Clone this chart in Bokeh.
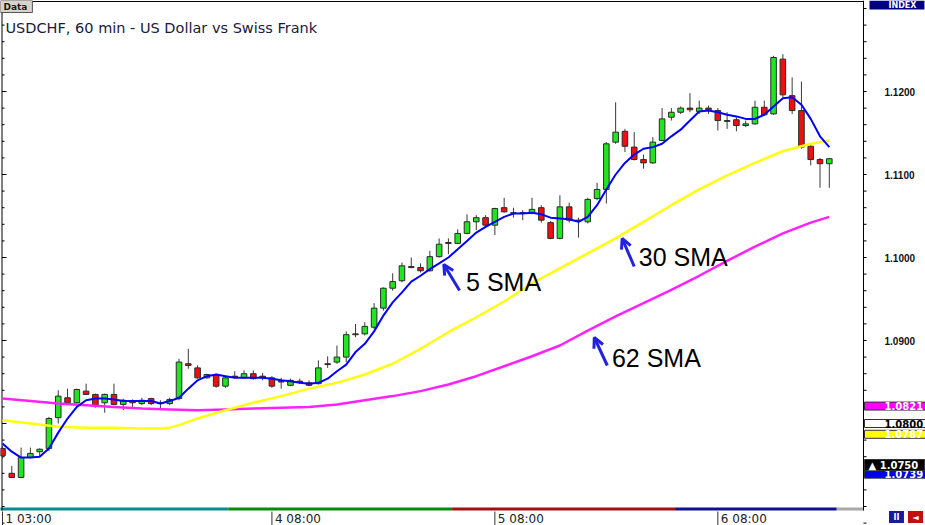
from bokeh.plotting import figure
from bokeh.models import Range1d, Label, LabelSet, ColumnDataSource, Arrow, OpenHead
from bokeh.embed import file_html
from bokeh.resources import INLINE
from bokeh.core.properties import value

# ---------------- data (hourly USDCHF candles) -------------
opens = [1.0770, 1.0740, 1.0735, 1.0759, 1.0766, 1.0770, 1.0807, 1.0831, 1.0825, 1.0839,
         1.0835, 1.0825, 1.0835, 1.0823, 1.0827, 1.0824, 1.0830, 1.0824, 1.0824, 1.0830,
         1.0872, 1.0867, 1.0855, 1.0859, 1.0845, 1.0857, 1.0855, 1.0860, 1.0857, 1.0855,
         1.0851, 1.0846, 1.0851, 1.0849, 1.0848, 1.0872, 1.0874, 1.0880, 1.0908, 1.0908,
         1.0916, 1.0939, 1.0963, 1.0972, 1.0989, 1.0988, 1.0984, 1.1001, 1.1018, 1.1017,
         1.1029, 1.1043, 1.1048, 1.1039, 1.1060, 1.1054, 1.1054, 1.1053, 1.1060, 1.1042,
         1.1023, 1.1061, 1.1045, 1.1043, 1.1071, 1.1082, 1.1139, 1.1152, 1.1133, 1.1118,
         1.1114, 1.1141, 1.1169, 1.1175, 1.1180, 1.1176, 1.1180, 1.1177, 1.1164, 1.1166,
         1.1159, 1.1161, 1.1181, 1.1173, 1.1239, 1.1195, 1.1177, 1.1134, 1.1118, 1.1113]
highs = [1.0773, 1.0749, 1.0771, 1.0771, 1.0770, 1.0808, 1.0840, 1.0842, 1.0842, 1.0848,
         1.0836, 1.0836, 1.0848, 1.0830, 1.0829, 1.0831, 1.0831, 1.0828, 1.0831, 1.0878,
         1.0890, 1.0870, 1.0860, 1.0860, 1.0857, 1.0863, 1.0864, 1.0864, 1.0861, 1.0857,
         1.0855, 1.0854, 1.0854, 1.0852, 1.0876, 1.0881, 1.0894, 1.0911, 1.0920, 1.0922,
         1.0945, 1.0964, 1.0981, 1.0994, 1.1000, 1.0993, 1.1008, 1.1023, 1.1023, 1.1034,
         1.1052, 1.1051, 1.1051, 1.1060, 1.1072, 1.1060, 1.1057, 1.1072, 1.1063, 1.1044,
         1.1075, 1.1066, 1.1048, 1.1072, 1.1090, 1.1139, 1.1187, 1.1155, 1.1151, 1.1124,
         1.1145, 1.1180, 1.1180, 1.1182, 1.1198, 1.1189, 1.1183, 1.1180, 1.1175, 1.1169,
         1.1165, 1.1189, 1.1189, 1.1243, 1.1245, 1.1217, 1.1212, 1.1135, 1.1120, 1.1120]
lows = [1.0758, 1.0734, 1.0734, 1.0758, 1.0761, 1.0767, 1.0800, 1.0824, 1.0824, 1.0835,
        1.0819, 1.0813, 1.0822, 1.0816, 1.0819, 1.0822, 1.0822, 1.0816, 1.0822, 1.0828,
        1.0866, 1.0854, 1.0854, 1.0843, 1.0843, 1.0854, 1.0854, 1.0853, 1.0852, 1.0843,
        1.0842, 1.0845, 1.0848, 1.0845, 1.0847, 1.0867, 1.0872, 1.0874, 1.0904, 1.0906,
        1.0914, 1.0936, 1.0960, 1.0970, 1.0987, 1.0982, 1.0983, 1.1000, 1.1004, 1.1016,
        1.1028, 1.1033, 1.1036, 1.1027, 1.1054, 1.1048, 1.1045, 1.1052, 1.1042, 1.1022,
        1.1022, 1.1042, 1.1024, 1.1041, 1.1069, 1.1065, 1.1137, 1.1127, 1.1117, 1.1107,
        1.1113, 1.1140, 1.1165, 1.1173, 1.1175, 1.1173, 1.1173, 1.1153, 1.1155, 1.1152,
        1.1157, 1.1160, 1.1171, 1.1172, 1.1193, 1.1173, 1.1131, 1.1111, 1.1084, 1.1084]
closes = [1.0761, 1.0735, 1.0759, 1.0764, 1.0769, 1.0806, 1.0833, 1.0825, 1.0841, 1.0835,
          1.0822, 1.0835, 1.0823, 1.0828, 1.0825, 1.0828, 1.0824, 1.0825, 1.0829, 1.0874,
          1.0870, 1.0855, 1.0859, 1.0845, 1.0855, 1.0856, 1.0860, 1.0854, 1.0856, 1.0845,
          1.0850, 1.0852, 1.0850, 1.0846, 1.0867, 1.0871, 1.0880, 1.0907, 1.0907, 1.0917,
          1.0939, 1.0963, 1.0971, 1.0990, 1.0988, 1.0984, 1.1001, 1.1016, 1.1017, 1.1029,
          1.1043, 1.1048, 1.1039, 1.1059, 1.1055, 1.1053, 1.1053, 1.1058, 1.1045, 1.1023,
          1.1061, 1.1045, 1.1044, 1.1070, 1.1082, 1.1137, 1.1151, 1.1134, 1.1118, 1.1114,
          1.1139, 1.1167, 1.1175, 1.1180, 1.1178, 1.1180, 1.1178, 1.1165, 1.1165, 1.1159,
          1.1161, 1.1181, 1.1172, 1.1241, 1.1196, 1.1177, 1.1133, 1.1118, 1.1113, 1.1119]

sma5 = [1.0776, 1.0766, 1.0759, 1.0759, 1.0760, 1.0770, 1.0789, 1.0806, 1.0820, 1.0828,
        1.0830, 1.0830, 1.0829, 1.0827, 1.0827, 1.0827, 1.0827, 1.0824, 1.0827, 1.0831,
        1.0842, 1.0852, 1.0857, 1.0859, 1.0857, 1.0855, 1.0855, 1.0855, 1.0855, 1.0854,
        1.0852, 1.0851, 1.0849, 1.0848, 1.0849, 1.0854, 1.0863, 1.0871, 1.0886, 1.0896,
        1.0911, 1.0930, 1.0946, 1.0958, 1.0971, 1.0978, 1.0986, 1.0993, 1.1000, 1.1010,
        1.1020, 1.1030, 1.1037, 1.1043, 1.1049, 1.1053, 1.1053, 1.1054, 1.1052, 1.1048,
        1.1047, 1.1046, 1.1043, 1.1049, 1.1063, 1.1082, 1.1100, 1.1114, 1.1124, 1.1131,
        1.1133, 1.1137, 1.1146, 1.1154, 1.1165, 1.1176, 1.1177, 1.1175, 1.1172, 1.1170,
        1.1167, 1.1167, 1.1172, 1.1182, 1.1192, 1.1193, 1.1184, 1.1167, 1.1146, 1.1133]

sma30_bar = [0, 3, 6, 9, 12, 15, 17, 18, 19, 21, 24, 27, 30, 33, 36, 39, 42, 45, 48, 51,
             54, 57, 60, 63, 66, 69, 72, 75, 78, 81, 84, 87, 89]
sma30 = [1.0804, 1.0800, 1.0796, 1.0795, 1.0795, 1.0794, 1.0794, 1.0795, 1.0798, 1.0806,
         1.0816, 1.0825, 1.0833, 1.0842, 1.0849, 1.0859, 1.0872, 1.0890, 1.0910, 1.0928,
         1.0947, 1.0969, 1.0987, 1.1005, 1.1023, 1.1043, 1.1063, 1.1082, 1.1099, 1.1114,
         1.1128, 1.1137, 1.1141]

sma62_bar = [0, 3, 6, 9, 12, 15, 18, 21, 24, 27, 30, 33, 36, 39, 42, 45, 48, 51, 54, 57,
             60, 63, 66, 69, 72, 75, 78, 81, 84, 87, 89]
sma62 = [1.0830, 1.0827, 1.0824, 1.0822, 1.0820, 1.0818, 1.0817, 1.0816, 1.0817, 1.0818,
         1.0819, 1.0820, 1.0823, 1.0828, 1.0833, 1.0839, 1.0847, 1.0857, 1.0869, 1.0881,
         1.0894, 1.0912, 1.0929, 1.0945, 1.0961, 1.0978, 1.0996, 1.1013, 1.1029, 1.1042,
         1.1049]

x_tick_bars = [0, 29, 53, 77]
x_tick_labels = ["1 03:00", "4 08:00", "5 08:00", "6 08:00"]
price_ticks = [1.09, 1.10, 1.11, 1.12]
price_tick_labels = ["1.0900", "1.1000", "1.1100", "1.1200"]
minor_price_ticks = [round(1.068 + 0.002 * k, 3) for k in range(32)]

tag_values = [1.0821, 1.0800, 1.0787, 1.0739, 1.0750]
tag_texts = ["1.0821", "1.0800", "1.0787", "1.0739", "\u25b2  1.0750"]
tag_fills = ["#ff00ff", "#ffffff", "#ffff00", "#0000ee", "#000000"]
tag_text_colors = ["#ffffff", "#000000", "#ffffff", "#ffffff", "#ffffff"]

session_edges = [-0.3, 24.3, 48.4, 72.4, 89.8, 92.68]
session_colors = ["#0a8c8c", "#0a8a0a", "#a01010", "#101090", "#a8a8a8"]

# ---------------- pixel helpers for the layout (window 925 x 525) -------------
W, H = 925, 525
def bx(px):            # horizontal pixel -> bar index
    return (px - 2) / 9.29
def py(px):            # vertical pixel -> price
    return 1.12 - (px - 91) / 8300.0

XL, XR = bx(1.5), bx(863)
YT, YB = py(1), py(510)

p = figure(width=W, height=H, output_backend="svg", toolbar_location=None,
           x_range=Range1d(bx(0), bx(W)), y_range=Range1d(py(H), py(0)),
           x_axis_type=None, y_axis_type=None,
           min_border_left=0, min_border_right=0, min_border_top=0, min_border_bottom=0)
p.background_fill_color = "white"
p.border_fill_color = "white"
p.outline_line_color = None

# session strip at the bottom of the chart
p.quad(left=session_edges[:-1], right=session_edges[1:], bottom=YB, top=py(507),
       fill_color=session_colors, line_color=None)

# chart frame: left, top, right (price axis) lines
p.segment(x0=[XL, XL, XR], y0=[YB, YT, YB], x1=[XL, XR, XR], y1=[YT, YT, py(0)],
          line_color="#000000", line_width=1)

# price ticks: right axis (outside) and left edge (inside)
all_ticks = minor_price_ticks
p.segment(x0=[XR] * len(all_ticks), y0=all_ticks, x1=[bx(866)] * len(all_ticks),
          y1=all_ticks, line_color="#000000", line_width=1)
p.segment(x0=[XL] * len(all_ticks), y0=all_ticks,
          x1=[bx(6) if round(t, 3) in price_ticks + [1.08] else bx(4) for t in all_ticks],
          y1=all_ticks, line_color="#000000", line_width=1)
for t, lab in zip(price_ticks, price_tick_labels):
    p.add_layout(Label(x=bx(884), y=t, text=lab, text_font="Liberation Sans",
                       text_font_size="10px", text_font_style="bold", text_color="#111111",
                       text_baseline="middle", text_align="left"))

# time ticks and labels below
p.segment(x0=x_tick_bars, y0=[py(511)] * 4, x1=x_tick_bars, y1=[py(525)] * 4,
          line_color="#333333", line_width=1)
xl = ColumnDataSource(dict(x=x_tick_bars, text=x_tick_labels))
p.add_layout(LabelSet(x="x", y=py(522), text="text", source=xl, x_offset=3,
                      text_font=value("DejaVu Sans"), text_font_size=value("12px"),
                      text_color="#222222", text_baseline="alphabetic", text_align="left"))

# candles
idx = list(range(len(opens)))
src = ColumnDataSource(dict(
    x=idx, high=highs, low=lows,
    top=[max(o, c) for o, c in zip(opens, closes)],
    bottom=[min(o, c) for o, c in zip(opens, closes)],
    color=["#1fe61f" if c >= o else "#ee1010" for o, c in zip(opens, closes)]))
p.segment(x0="x", y0="low", x1="x", y1="high", source=src, line_color="#3a3a3a", line_width=1)
p.vbar(x="x", width=0.6, top="top", bottom="bottom", source=src,
       fill_color="color", line_color="#2a2a2a", line_width=1)

# moving averages
p.line(sma62_bar, sma62, line_color="#ff22ff", line_width=2.5)
p.line(sma30_bar, sma30, line_color="#ffff10", line_width=2.5)
p.line(idx, sma5, line_color="#0000ff", line_width=2)

# annotations
for txt, xx, yy in [("5 SMA", 49.9, py(281)), ("30 SMA", 68.5, py(256)), ("62 SMA", 65.6, py(357))]:
    p.add_layout(Label(x=xx, y=yy, text=txt, text_font="Liberation Sans",
                       text_font_size="25px", text_color="#000000",
                       text_baseline="alphabetic"))
for xs, ys, xe, ye in [(49.2, py(290), 47.5, py(264)), (68.0, py(266), 66.7, py(238)),
                       (65.1, py(365), 63.7, py(337))]:
    p.add_layout(Arrow(x_start=xs, y_start=ys, x_end=xe, y_end=ye,
                       line_color="#2222dd", line_width=3,
                       end=OpenHead(line_color="#2222dd", line_width=3, size=10)))

# header
p.add_layout(Label(x=bx(0), y=py(0), text="Data", text_font="DejaVu Sans", text_font_size="9px",
                   text_font_style="bold", text_color="#1a1a1a", text_baseline="top",
                   background_fill_color="#d8d4cc", border_line_color="#555555",
                   padding=dict(left=3, right=5, top=1, bottom=1)))
p.add_layout(Label(x=bx(5), y=py(27), text="USDCHF, 60 min - US Dollar vs Swiss Frank",
                   text_font="DejaVu Sans", text_font_size="14.5px", text_color="#1a1a3c",
                   text_baseline="alphabetic"))
p.add_layout(Label(x=bx(869), y=py(0), text="INDEX", text_font="DejaVu Sans",
                   text_font_size="8px", text_font_style="bold", text_color="#ffffff",
                   text_baseline="top", background_fill_color="#000080",
                   padding=dict(left=19, right=8, top=0, bottom=0)))

# price tags on the right
for v, t, c, tc in zip(tag_values, tag_texts, tag_fills, tag_text_colors):
    p.add_layout(Label(x=bx(864), y=v, text=t, text_font="DejaVu Sans",
                       text_font_size="10px", text_font_style="bold", text_color=tc,
                       text_baseline="middle", background_fill_color=c,
                       border_line_color="#333333",
                       padding=dict(left=4 if t.startswith("\u25b2") else 20, right=3,
                                    top=0, bottom=0)))

# small buttons bottom right
p.add_layout(Label(x=bx(888), y=py(510), text="II", text_font="DejaVu Sans",
                   text_font_size="8px", text_font_style="bold", text_color="#ffffff",
                   text_baseline="top", background_fill_color="#1a1aa0",
                   border_line_color="#ffffff",
                   padding=dict(left=5, right=5, top=2, bottom=2)))
p.add_layout(Label(x=bx(907), y=py(510), text="\u25c4", text_font="DejaVu Sans",
                   text_font_size="8px", text_color="#ffffff",
                   text_baseline="top", background_fill_color="#c01010",
                   border_line_color="#ffffff",
                   padding=dict(left=5, right=5, top=2, bottom=2)))

open("out.html", "w").write(file_html(p, INLINE))
